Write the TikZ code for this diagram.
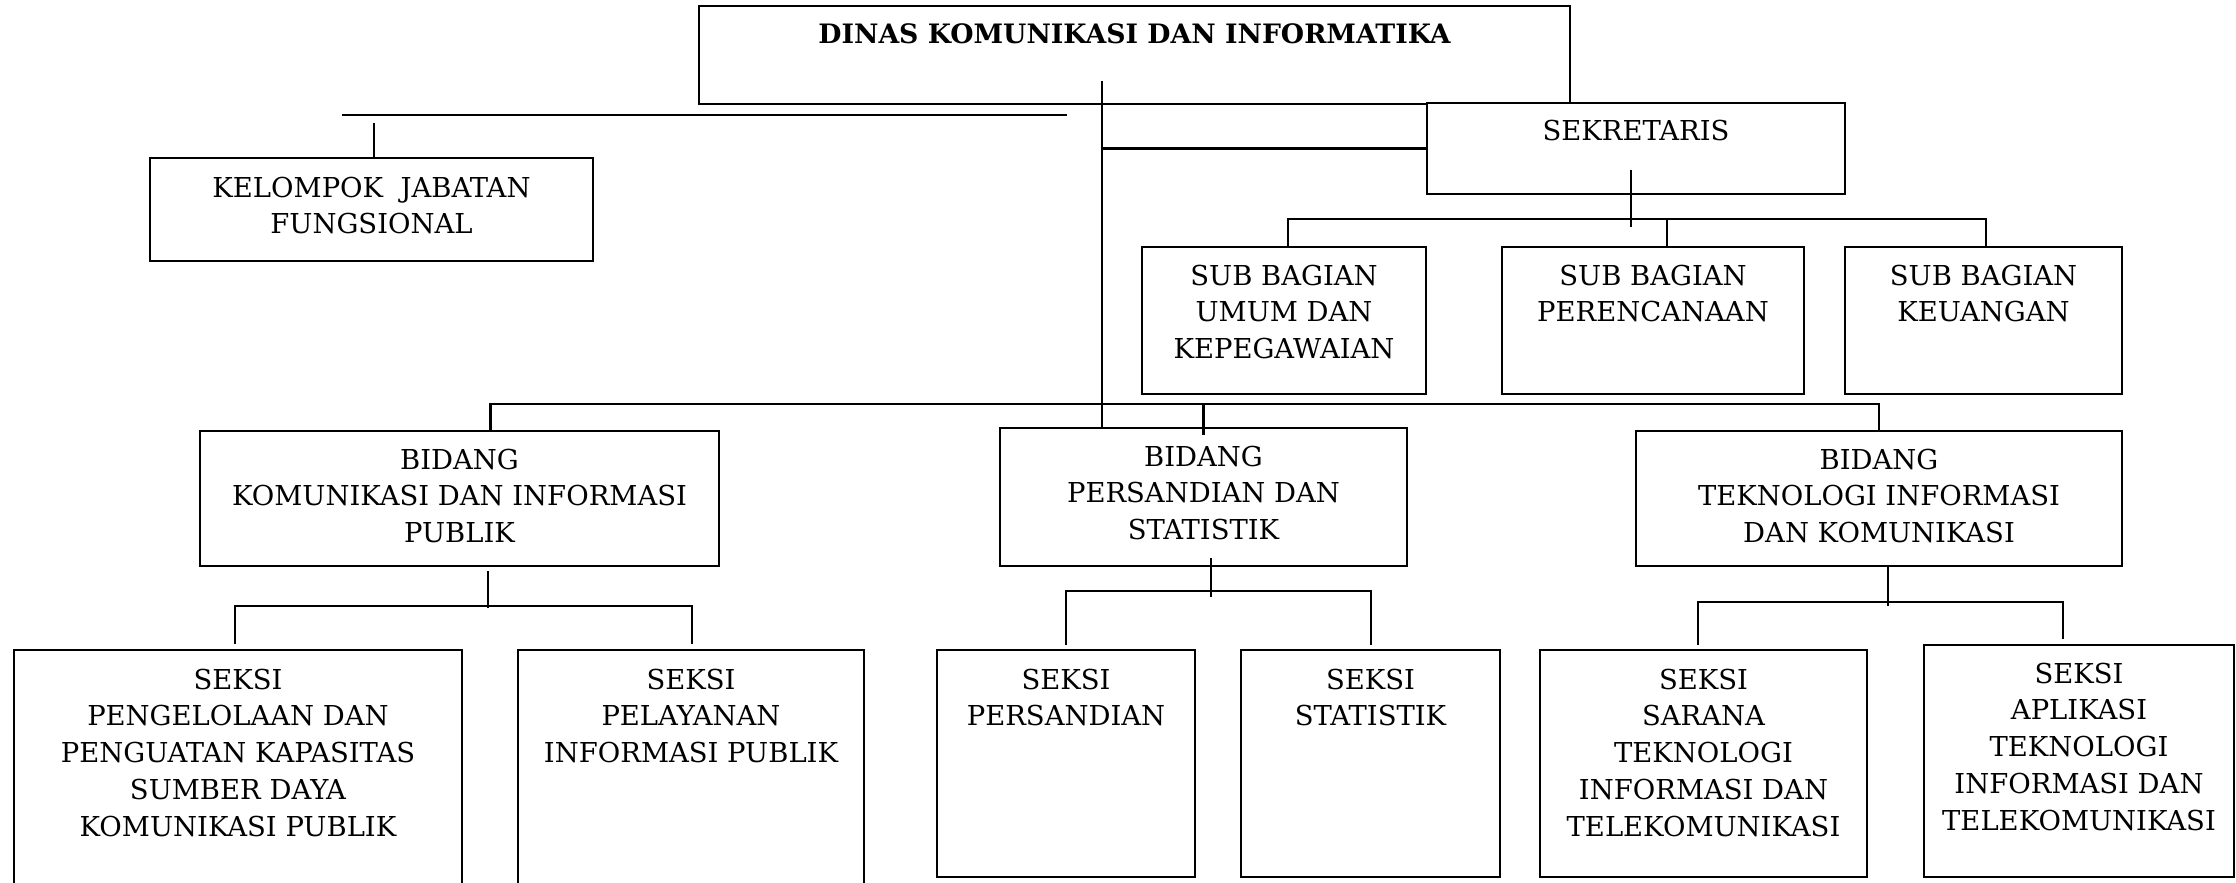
\documentclass[tikz,border=0pt]{standalone}
\usepackage{fontspec}
\setmainfont{DejaVu Serif}
\usetikzlibrary{fit}

\tikzset{
  kotak/.style={draw, line width=0.6pt, inner sep=0pt, fill=white},
  teks/.style={align=center, inner sep=0pt, anchor=north, font=\fontsize{7.8}{10.5}\selectfont},
  garis/.style={line width=0.6pt},
}

\begin{document}
\begin{tikzpicture}[x=0.01cm, y=-0.01cm]
	\path[use as bounding box, clip] (0,0) rectangle (2236,883);
	% kotak
	\node[kotak, fit={(699,6) (1570,104)}] (dinas) {};
	\node[kotak, fit={(150,158) (593,261)}] (kjf) {};
	\node[kotak, fit={(1427,103) (1845,194)}] (sek) {};
	\node[kotak, fit={(1142,247) (1426,394)}] (umum) {};
	\node[kotak, fit={(1502,247) (1804,394)}] (renc) {};
	\node[kotak, fit={(1845,247) (2122,394)}] (keu) {};
	\node[kotak, fit={(200,431) (719,566)}] (kip) {};
	\node[kotak, fit={(1000,428) (1407,566)}] (pst) {};
	\node[kotak, fit={(1636,431) (2122,566)}] (tik) {};
	\node[kotak, fit={(14,650) (462,900)}] (sdkp) {};
	\node[kotak, fit={(518,650) (864,900)}] (pip) {};
	\node[kotak, fit={(937,650) (1195,877)}] (sandi) {};
	\node[kotak, fit={(1241,650) (1500,877)}] (stat) {};
	\node[kotak, fit={(1540,650) (1867,877)}] (sti) {};
	\node[kotak, fit={(1924,645) (2234,877)}] (ati) {};
	% teks
	\node[teks, font=\fontsize{7.6}{10.5}\selectfont\bfseries] (dinas-t) at ([yshift=-0.18cm]dinas.north) {DINAS KOMUNIKASI DAN INFORMATIKA};
	\node[teks] (kjf-t) at ([yshift=-0.19cm]kjf.north) {KELOMPOK~~JABATAN\\FUNGSIONAL};
	\node[teks] (sek-t) at ([yshift=-0.17cm]sek.north) {SEKRETARIS};
	\node[teks] (umum-t) at ([yshift=-0.18cm]umum.north) {SUB BAGIAN\\UMUM DAN\\KEPEGAWAIAN};
	\node[teks] (renc-t) at ([yshift=-0.18cm]renc.north) {SUB BAGIAN\\PERENCANAAN};
	\node[teks] (keu-t) at ([yshift=-0.18cm]keu.north) {SUB BAGIAN\\KEUANGAN};
	\node[teks] (kip-t) at ([yshift=-0.18cm]kip.north) {BIDANG\\KOMUNIKASI DAN INFORMASI\\PUBLIK};
	\node[teks] (pst-t) at ([yshift=-0.18cm]pst.north) {BIDANG\\PERSANDIAN DAN\\STATISTIK};
	\node[teks] (tik-t) at ([yshift=-0.18cm]tik.north) {BIDANG\\TEKNOLOGI INFORMASI\\DAN KOMUNIKASI};
	\node[teks] (sdkp-t) at ([yshift=-0.19cm]sdkp.north) {SEKSI\\PENGELOLAAN DAN\\PENGUATAN KAPASITAS\\SUMBER DAYA\\KOMUNIKASI PUBLIK};
	\node[teks] (pip-t) at ([yshift=-0.19cm]pip.north) {SEKSI\\PELAYANAN\\INFORMASI PUBLIK};
	\node[teks] (sandi-t) at ([yshift=-0.19cm]sandi.north) {SEKSI\\PERSANDIAN};
	\node[teks] (stat-t) at ([yshift=-0.19cm]stat.north) {SEKSI\\STATISTIK};
	\node[teks] (sti-t) at ([yshift=-0.19cm]sti.north) {SEKSI\\SARANA\\TEKNOLOGI\\INFORMASI DAN\\TELEKOMUNIKASI};
	\node[teks] (ati-t) at ([yshift=-0.18cm]ati.north) {SEKSI\\APLIKASI\\TEKNOLOGI\\INFORMASI DAN\\TELEKOMUNIKASI};
	% garis
	\coordinate (pusat) at (1102,81);
	\coordinate (sb) at (0,220);
	\coordinate (bb) at (0,404);
	\coordinate (kjf-a) at (342,115);
	\coordinate (kjf-b) at (1067,115);
	\draw[garis] (pusat) -- (pusat |- pst.north);
	\draw[garis] (sek.west) -- (sek.west -| pusat);
	\draw[garis] (kjf-a) -- (kjf-b);
	\draw[garis] ([xshift=0.025cm]kjf.north) -- ++(0,-34);
	\draw[garis] ([xshift=-0.05cm,yshift=-0.68cm]sek.north) -- ++(0,57);
	\draw[garis] ([xshift=0.04cm]umum.north) -- ++(0,-27) -- ++(698,0) -- ++(0,27);
	\draw[garis] ([xshift=0.14cm]renc.north) -- ++(0,-27);
	\draw[garis] ([xshift=0.31cm]kip.north) |- (bb -| tik.north) -- (tik.north);
	\draw[garis] (pst.north |- bb) -- ([yshift=-0.08cm]pst.north);
	\draw[garis] ([xshift=0.285cm,yshift=-0.04cm]kip.south) -- ++(0,37);
	\draw[garis] ([xshift=-0.03cm,yshift=0.05cm]sdkp.north) -- ++(0,-38) -- ++(457,0) -- ++(0,38);
	\draw[garis] ([xshift=0.075cm,yshift=0.09cm]pst.south) -- ++(0,39);
	\draw[garis] ([yshift=0.04cm]sandi.north) -- ++(0,-54) -- ++(305,0) -- ++(0,54);
	\draw[garis] ([xshift=0.09cm]tik.south) -- ++(0,39);
	\draw[garis] ([xshift=-0.055cm,yshift=0.04cm]sti.north) -- ++(0,-43) -- ++(365,0) -- ++(0,37);
\end{tikzpicture}
\end{document}
